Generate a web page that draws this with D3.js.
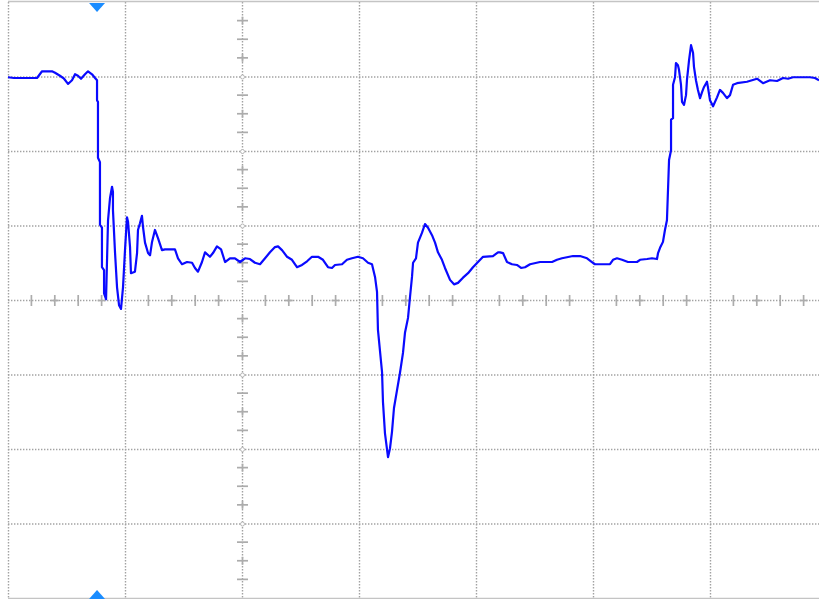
<!DOCTYPE html>
<html>
<head>
<meta charset="utf-8">
<script src="https://cdn.jsdelivr.net/npm/d3@7"></script>
<style>
  html, body { margin: 0; padding: 0; background: #ffffff; }
  svg { display: block; }
</style>
</head>
<body>
<svg id="scope" width="819" height="599"></svg>
<script>
// Trace samples: time and amplitude, both in screen divisions (0 = centre)
const timeDiv = [
  -2.000, -1.949, -1.752, -1.709, -1.624, -1.598, -1.556, -1.521, -1.487, -1.453,
  -1.427, -1.402, -1.376, -1.342, -1.316, -1.282, -1.256, -1.239, -1.239, -1.231,
  -1.231, -1.214, -1.214, -1.197, -1.197, -1.179, -1.179, -1.162, -1.145, -1.128,
  -1.111, -1.103, -1.103, -1.085, -1.068, -1.051, -1.034, -1.017, -1.000, -0.983,
  -0.974, -0.957, -0.949, -0.915, -0.897, -0.889, -0.872, -0.855, -0.846, -0.829,
  -0.803, -0.786, -0.769, -0.744, -0.718, -0.684, -0.658, -0.573, -0.547, -0.513,
  -0.470, -0.427, -0.402, -0.376, -0.342, -0.316, -0.274, -0.248, -0.214, -0.179,
  -0.145, -0.103, -0.060, -0.017, 0.026, 0.068, 0.111, 0.154, 0.197, 0.239,
  0.282, 0.308, 0.342, 0.385, 0.427, 0.470, 0.513, 0.556, 0.598, 0.650,
  0.692, 0.735, 0.769, 0.795, 0.855, 0.897, 0.940, 0.991, 1.034, 1.077,
  1.111, 1.137, 1.154, 1.162, 1.197, 1.205, 1.222, 1.248, 1.265, 1.282,
  1.299, 1.325, 1.350, 1.376, 1.393, 1.419, 1.436, 1.453, 1.462, 1.487,
  1.504, 1.538, 1.564, 1.590, 1.624, 1.650, 1.675, 1.709, 1.735, 1.778,
  1.812, 1.846, 1.889, 1.932, 1.974, 2.017, 2.060, 2.145, 2.188, 2.205,
  2.231, 2.265, 2.308, 2.350, 2.385, 2.419, 2.462, 2.547, 2.650, 2.692,
  2.735, 2.829, 2.889, 2.949, 2.991, 3.017, 3.145, 3.171, 3.205, 3.248,
  3.299, 3.376, 3.402, 3.462, 3.504, 3.547, 3.556, 3.573, 3.598, 3.615,
  3.632, 3.650, 3.667, 3.667, 3.684, 3.684, 3.701, 3.709, 3.726, 3.735,
  3.752, 3.761, 3.778, 3.795, 3.803, 3.821, 3.838, 3.855, 3.863, 3.880,
  3.897, 3.915, 3.932, 3.949, 3.974, 3.983, 4.000, 4.026, 4.060, 4.085,
  4.111, 4.145, 4.171, 4.197, 4.231, 4.316, 4.402, 4.453, 4.513, 4.573,
  4.624, 4.667, 4.709, 4.786, 4.855, 4.897, 4.932
];
const voltDiv = [
  2.99, 2.98, 2.98, 3.07, 3.07, 3.05, 3.01, 2.97, 2.90, 2.95,
  3.03, 3.01, 2.97, 3.03, 3.07, 3.03, 2.98, 2.95, 2.68, 2.66,
  1.91, 1.85, 1.01, 0.97, 0.44, 0.40, 0.09, 0.01, 1.07, 1.37,
  1.52, 1.45, 1.21, 0.63, 0.17, -0.07, -0.12, 0.17, 0.67, 1.11,
  1.05, 0.71, 0.36, 0.38, 0.63, 0.94, 1.03, 1.13, 0.98, 0.77,
  0.63, 0.60, 0.78, 0.94, 0.83, 0.67, 0.68, 0.68, 0.56, 0.48,
  0.51, 0.50, 0.43, 0.38, 0.51, 0.64, 0.58, 0.63, 0.72, 0.68,
  0.51, 0.56, 0.56, 0.51, 0.56, 0.55, 0.50, 0.48, 0.56, 0.64,
  0.71, 0.72, 0.67, 0.58, 0.54, 0.44, 0.47, 0.52, 0.58, 0.58,
  0.54, 0.44, 0.43, 0.47, 0.48, 0.54, 0.56, 0.58, 0.56, 0.50,
  0.48, 0.31, 0.11, -0.40, -0.97, -1.37, -1.79, -2.11, -1.99, -1.77,
  -1.45, -1.21, -0.98, -0.71, -0.44, -0.24, 0.04, 0.31, 0.50, 0.56,
  0.77, 0.90, 1.02, 0.97, 0.87, 0.77, 0.64, 0.54, 0.43, 0.27,
  0.21, 0.23, 0.30, 0.36, 0.44, 0.51, 0.58, 0.59, 0.64, 0.64,
  0.63, 0.51, 0.48, 0.47, 0.43, 0.44, 0.48, 0.51, 0.51, 0.54,
  0.56, 0.59, 0.59, 0.56, 0.51, 0.48, 0.48, 0.54, 0.56, 0.54,
  0.51, 0.51, 0.54, 0.55, 0.56, 0.55, 0.63, 0.70, 0.78, 0.94,
  1.07, 1.88, 2.01, 2.42, 2.44, 2.89, 2.99, 3.18, 3.15, 3.09,
  2.89, 2.66, 2.62, 2.75, 2.95, 3.22, 3.42, 3.32, 3.13, 2.95,
  2.82, 2.71, 2.79, 2.86, 2.93, 2.85, 2.68, 2.60, 2.72, 2.82,
  2.78, 2.71, 2.75, 2.89, 2.91, 2.93, 2.97, 2.91, 2.95, 2.94,
  2.98, 2.97, 2.99, 2.99, 2.99, 2.98, 2.95
];

// Graticule: major divisions and minor subdivisions
const xMajor = [-2, -1, 0, 1, 2, 3, 4];
const yMajor = [-3, -2, -1, 0, 1, 2, 3];
const xSubdiv = 5;   // minor ticks per horizontal division
const ySubdiv = 4;   // minor ticks per vertical division
const triggerTime = -1.239;

const W = 819, H = 599;
const svg = d3.select("#scope");

const x = d3.scaleLinear().domain([-2, 5]).range([8, 827]);
const y = d3.scaleLinear().domain([-4, 4]).range([598, 2]);

const gridColor = "#a2a2a2";
const g = svg.append("g");

// dotted graticule lines
g.selectAll("line.vgrid").data(xMajor).join("line")
  .attr("class", "vgrid")
  .attr("x1", d => x(d) + 0.5).attr("x2", d => x(d) + 0.5)
  .attr("y1", y(4)).attr("y2", y(-4))
  .attr("stroke", gridColor).attr("stroke-width", 1.4)
  .attr("stroke-dasharray", "1.4 1.6");

g.selectAll("line.hgrid").data(yMajor).join("line")
  .attr("class", "hgrid")
  .attr("x1", x(-2)).attr("x2", W)
  .attr("y1", d => y(d) + 0.5).attr("y2", d => y(d) + 0.5)
  .attr("stroke", gridColor).attr("stroke-width", 1.4)
  .attr("stroke-dasharray", "1.4 1.6");

// solid top and bottom frame
[4, -4].forEach(v => {
  g.append("line")
    .attr("x1", x(-2)).attr("x2", W)
    .attr("y1", y(v) + (v > 0 ? -0.5 : 0.5)).attr("y2", y(v) + (v > 0 ? -0.5 : 0.5))
    .attr("stroke", "#c4c4c4").attr("stroke-width", 1.5);
});

// minor ticks on the centre horizontal axis
const xMinor = d3.range(-2 * xSubdiv + 1, 5 * xSubdiv)
  .filter(i => i % xSubdiv !== 0).map(i => i / xSubdiv);
g.selectAll("line.xtick").data(xMinor).join("line")
  .attr("class", "xtick")
  .attr("x1", d => x(d)).attr("x2", d => x(d))
  .attr("y1", y(0) - 5).attr("y2", y(0) + 6)
  .attr("stroke", "#acacac").attr("stroke-width", 1.7);
g.selectAll("line.xcross").data(xMinor.filter((d, i) => i % 2 === 1)).join("line")
  .attr("class", "xcross")
  .attr("x1", d => x(d) - 4).attr("x2", d => x(d) + 4)
  .attr("y1", y(0) + 0.5).attr("y2", y(0) + 0.5)
  .attr("stroke", "#acacac").attr("stroke-width", 1.7);

// minor ticks on the centre vertical axis
const yMinor = d3.range(-4 * ySubdiv + 1, 4 * ySubdiv)
  .filter(i => i % ySubdiv !== 0).map(i => i / ySubdiv);
g.selectAll("line.ytick").data(yMinor).join("line")
  .attr("class", "ytick")
  .attr("x1", x(0) - 5).attr("x2", x(0) + 6)
  .attr("y1", d => y(d)).attr("y2", d => y(d))
  .attr("stroke", "#acacac").attr("stroke-width", 1.7);
g.selectAll("line.ycross").data(yMinor.filter((d, i) => i % 2 === 1)).join("line")
  .attr("class", "ycross")
  .attr("x1", x(0) + 0.5).attr("x2", x(0) + 0.5)
  .attr("y1", d => y(d) - 4).attr("y2", d => y(d) + 4)
  .attr("stroke", "#acacac").attr("stroke-width", 1.7);

// small rings where the centre axes cross major lines
g.selectAll("circle.ring").data(yMajor.filter(v => v !== 0)).join("circle")
  .attr("class", "ring")
  .attr("cx", x(0) + 0.5).attr("cy", d => y(d) + 0.5).attr("r", 2)
  .attr("fill", "#fff").attr("stroke", "#b8b8b8").attr("stroke-width", 1);

// the trace
const trace = timeDiv.map((t, i) => [t, voltDiv[i]]);
svg.append("path")
  .datum(trace)
  .attr("d", d3.line().x(d => x(d[0])).y(d => y(d[1])))
  .attr("fill", "none")
  .attr("stroke", "#0a0aff")
  .attr("stroke-width", 2.2)
  .attr("stroke-linejoin", "round");

// trigger position markers
const tx = x(triggerTime);
svg.append("path")
  .attr("d", `M${tx - 8},${y(4) + 1} L${tx + 8},${y(4) + 1} L${tx},${y(4) + 10} Z`)
  .attr("fill", "#1a8cff");
svg.append("path")
  .attr("d", `M${tx - 8},${H} L${tx + 8},${H} L${tx},${y(-4) - 8} Z`)
  .attr("fill", "#1a8cff");
</script>
</body>
</html>
